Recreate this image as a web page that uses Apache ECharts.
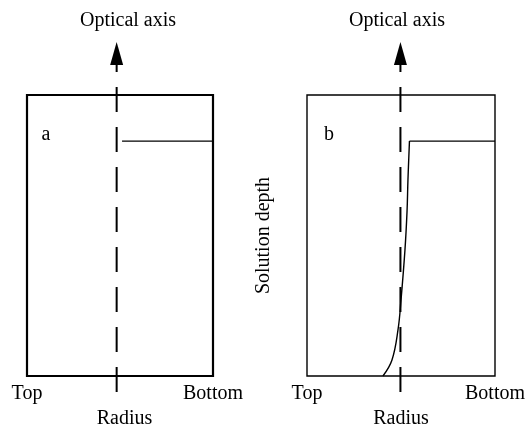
<!DOCTYPE html>
<html>
<head>
<meta charset="utf-8">
<script src="https://cdn.jsdelivr.net/npm/echarts@6/dist/echarts.min.js"></script>
<style>html,body{margin:0;padding:0;background:#fff}#c{width:528px;height:424px}</style>
</head>
<body>
<div id="c"></div>
<script>
// ---- data ----
const xTickLabels = ['Top', 'Bottom'];
const panelLabels = ['a', 'b'];
const opticalAxisX = [4.82, 4.97];          // radius position of optical axis (a, b)
const opticalAxisY = [-0.57, 11.07];        // extent of dashed optical axis
const arrowY = [11.48];                     // arrow head position
const stepA_x = [5.11, 10];                 // panel a boundary (sharp)
const stepA_y = [8.36, 8.36];
const curveB_x = [4.04, 4.52, 4.84, 5.00, 5.21, 5.32, 5.37, 5.45];
const curveB_y = [0, 0.57, 1.64, 2.70, 4.48, 5.84, 6.98, 8.36];
const flatB_x = [5.45, 10];
const flatB_y = [8.36, 8.36];

const font = '"Liberation Serif", "DejaVu Serif", serif';
const chart = echarts.init(document.getElementById('c'), null, {renderer: 'canvas'});

function xAxis(gi, nameShift) {
  return {
    type: 'value', gridIndex: gi, min: 0, max: 10, interval: 10,
    axisLine: {show: false}, axisTick: {show: false}, splitLine: {show: false},
    axisLabel: {margin: 8, color: '#000', fontFamily: font, fontSize: 20,
      formatter: v => v === 0 ? xTickLabels[0] : xTickLabels[1]},
    name: 'Radius', nameLocation: 'middle', nameGap: 29,
    nameTextStyle: {color: '#000', fontFamily: font, fontSize: 20, padding: [0, 0, 0, nameShift]}
  };
}
function yAxis(gi, name) {
  return {
    type: 'value', gridIndex: gi, min: 0, max: 10,
    axisLine: {show: false}, axisTick: {show: false}, splitLine: {show: false},
    axisLabel: {show: false},
    name: name, nameLocation: 'middle', nameGap: 33,
    nameTextStyle: {color: '#000', fontFamily: font, fontSize: 20}
  };
}
function zip(xs, ys) { return xs.map((x, i) => [x, ys[i]]); }

const series = [];
[0, 1].forEach(gi => {
  series.push({
    type: 'line', xAxisIndex: gi, yAxisIndex: gi, clip: false, symbol: 'none', silent: true,
    data: opticalAxisY.map(y => [opticalAxisX[gi], y]),
    lineStyle: {color: '#000', width: 2, type: [25, 15]}
  });
  series.push({
    type: 'scatter', xAxisIndex: gi, yAxisIndex: gi, clip: false, symbol: 'triangle',
    symbolSize: [13, 23], silent: true,
    data: arrowY.map(y => [opticalAxisX[gi], y]),
    itemStyle: {color: '#000', opacity: 1}
  });
});
series.push({
  type: 'line', xAxisIndex: 0, yAxisIndex: 0, symbol: 'none', silent: true,
  data: zip(stepA_x, stepA_y), lineStyle: {color: '#000', width: 1.4}
});
series.push({
  type: 'line', xAxisIndex: 1, yAxisIndex: 1, symbol: 'none', silent: true, smooth: 0.4,
  data: zip(curveB_x, curveB_y), lineStyle: {color: '#000', width: 1.4}
});
series.push({
  type: 'line', xAxisIndex: 1, yAxisIndex: 1, symbol: 'none', silent: true,
  data: zip(flatB_x, flatB_y), lineStyle: {color: '#000', width: 1.4}
});

chart.setOption({
  animation: false,
  backgroundColor: '#fff',
  grid: [
    {left: 27, top: 95, width: 186, height: 281, show: true, borderColor: '#000', borderWidth: 2.2, backgroundColor: 'transparent', outerBoundsMode: 'none', containLabel: false},
    {left: 307, top: 95, width: 188, height: 281, show: true, borderColor: '#000', borderWidth: 1.4, backgroundColor: 'transparent', outerBoundsMode: 'none', containLabel: false}
  ],
  xAxis: [xAxis(0, 9), xAxis(1, 0)],
  yAxis: [yAxis(0, ''), yAxis(1, 'Solution depth')],
  graphic: [
    {type: 'text', x: 128, y: 21, style: {text: 'Optical axis', font: '20px ' + font, fill: '#000', textAlign: 'center', textVerticalAlign: 'middle'}},
    {type: 'text', x: 397, y: 21, style: {text: 'Optical axis', font: '20px ' + font, fill: '#000', textAlign: 'center', textVerticalAlign: 'middle'}},
    {type: 'text', x: 46, y: 135, style: {text: panelLabels[0], font: '20px ' + font, fill: '#000', textAlign: 'center', textVerticalAlign: 'middle'}},
    {type: 'text', x: 329, y: 135, style: {text: panelLabels[1], font: '20px ' + font, fill: '#000', textAlign: 'center', textVerticalAlign: 'middle'}}
  ],
  series: series
});
</script>
</body>
</html>
